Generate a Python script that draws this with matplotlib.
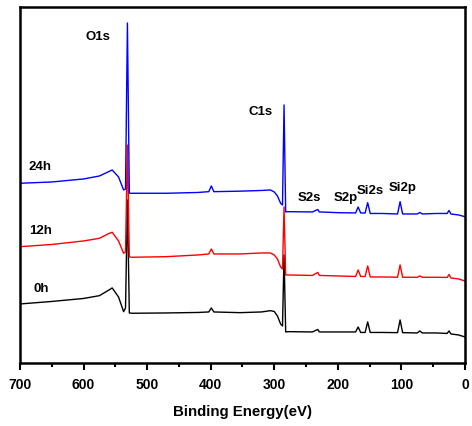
import matplotlib

matplotlib.use("Agg")
import matplotlib.pyplot as plt
from matplotlib.ticker import MultipleLocator

# binding energies (eV) of the read-off points, shared by all three spectra
energy = [700, 650, 600, 575, 560, 555, 545, 537, 534, 531, 528, 524, 470, 420,
          403, 399, 395, 354, 320, 306, 300, 295, 290, 287, 284.6, 282, 278, 240,
          231.5, 229, 227, 200, 172, 168, 164, 157, 153, 149, 130, 106, 102, 98,
          75, 71, 67, 45, 28, 25, 22, 10, 0]

# intensities (arb. units, offset per sample)
int_0h = [59, 61.5, 64.5, 67.3, 73, 75, 66, 51.3, 55, 163, 50, 49.7, 50, 50.5,
          51, 55, 51, 50.3, 51, 52.3, 51.5, 47, 39, 37, 108, 31, 31.3, 31,
          33.5, 31, 31, 31, 31, 36, 30.5, 30.5, 41, 30.5, 30.5, 30.3, 43, 30.3,
          30, 32, 30, 30, 29.5, 32, 29, 28, 26]
int_12h = [116.3, 118.5, 122, 124.7, 129.5, 130.7, 122, 109.7, 111, 218, 106, 105.7, 106.3, 108,
           109, 114, 109, 109, 110, 110, 108, 104, 96, 94, 156, 88, 88, 87.5,
           90.5, 87.5, 87.5, 87, 86.5, 93, 86.5, 86.5, 97, 86, 86, 85.7, 98, 85.7,
           85.7, 87, 85.7, 85.7, 85.5, 88.5, 85, 84, 82]
int_24h = [179.7, 181, 184, 187, 191.5, 193, 186, 173, 174, 340, 169.7, 169.7, 169.7, 170.5,
           171.3, 177, 171.3, 171.8, 172.5, 173, 171, 167, 159.7, 158, 258, 151, 151.3, 151,
           153.5, 151, 151, 150.3, 150, 156, 150, 150, 160.3, 149.5, 149.5, 149, 161.3, 149,
           149, 150.5, 149, 149.5, 149.5, 152.5, 149, 148, 146.3]

samples = ["0h", "12h", "24h"]
colors = ["black", "#ff0000", "#0000ff"]

peak_labels = ["O1s", "C1s", "S2s", "S2p", "Si2s", "Si2p"]
peak_label_pos = [(577, 326), (322, 251), (244, 165), (187, 165), (149, 172), (97.5, 175)]
sample_label_pos = [(667, 74), (668, 132), (668, 196)]

plt.rcParams["font.family"] = ["Liberation Sans", "DejaVu Sans"]
plt.rcParams["font.weight"] = "bold"

fig = plt.figure(figsize=(4.72, 4.26), dpi=100)
ax = fig.add_axes([0.0424, 0.148, 0.9426, 0.8356])

for ys, c in zip([int_0h, int_12h, int_24h], colors):
    ax.plot(energy, ys, color=c, lw=1.0)

for lab, (x, y) in zip(peak_labels, peak_label_pos):
    ax.text(x, y, lab, ha="center", va="center", fontsize=9.5, fontweight="bold")
for lab, (x, y) in zip(samples, sample_label_pos):
    ax.text(x, y, lab, ha="center", va="center", fontsize=9.5, fontweight="bold")

ax.set_xlim(700, 0)
ax.set_ylim(0, 356)
ax.set_yticks([])
ax.xaxis.set_major_locator(MultipleLocator(100))
ax.xaxis.set_minor_locator(MultipleLocator(50))
ax.tick_params(axis="x", which="major", direction="out", length=5, width=1.5,
               labelsize=10, pad=6, top=False)
ax.tick_params(axis="x", which="minor", direction="out", length=3, width=1.5, top=False)
for lbl in ax.get_xticklabels():
    lbl.set_fontweight("bold")
for s in ax.spines.values():
    s.set_linewidth(1.8)
ax.set_xlabel("Binding Energy(eV)", fontsize=10.8, fontweight="bold", labelpad=9)

fig.savefig("out.png", dpi=100)
